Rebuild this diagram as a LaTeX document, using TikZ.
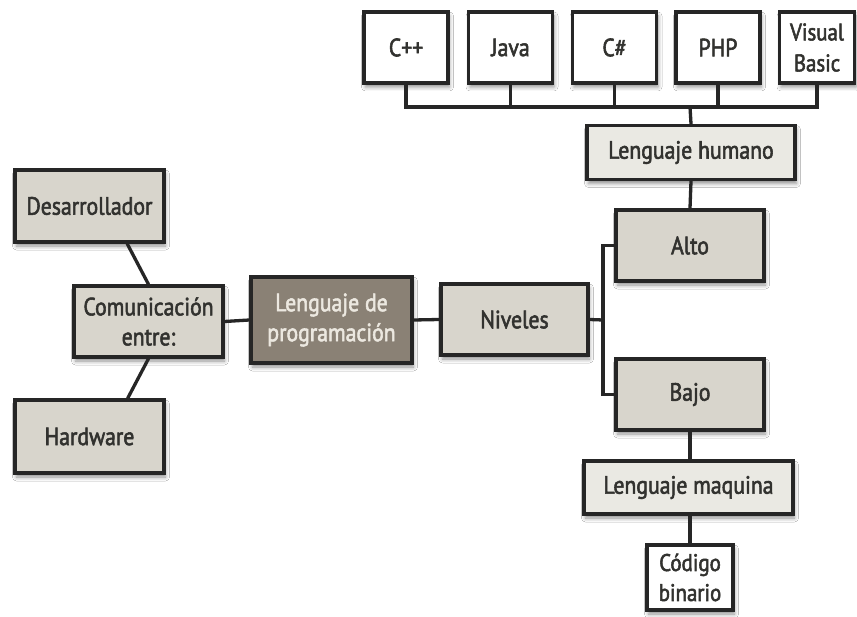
\documentclass[tikz,border=0pt]{standalone}
\usepackage{fontspec}
\setmainfont[FakeStretch=0.87, FakeBold=2.2]{PT Sans}
\usetikzlibrary{shadows.blur}
\definecolor{boxfill}{RGB}{216,213,204}
\definecolor{lightfill}{RGB}{234,233,227}
\definecolor{darkfill}{RGB}{138,129,117}
\definecolor{ink}{RGB}{38,38,38}
\definecolor{txt}{RGB}{50,50,47}
\definecolor{lighttxt}{RGB}{236,232,224}
\tikzset{
  box/.style={draw=ink, line width=3.3pt, fill=boxfill, inner sep=0pt, align=center,
    text=txt, font=\fontsize{25}{30}\selectfont,
    blur shadow={shadow xshift=1.5pt, shadow yshift=-4pt, shadow blur radius=4pt, shadow opacity=45}},
  langbox/.style={box, fill=white, minimum width=84pt, minimum height=71pt},
  midbox/.style={box, minimum width=148pt, minimum height=71pt},
  wirebox/.style={box, fill=lightfill, minimum height=54pt},
  link/.style={draw=ink, line width=3.3pt}
}
\begin{document}
\begin{tikzpicture}[x=1pt, y=-1pt]
  \path[use as bounding box, fill=white] (0,0) rectangle (857,617);

  % languages on top
  \node[langbox] (cpp) at (406,47.5) {C++};
  \node[langbox] (java) at (510.5,47.5) {Java};
  \node[langbox] (csharp) at (614.5,47.5) {C\#};
  \node[langbox] (php) at (718,47.5) {PHP};
  \node[langbox, minimum width=75pt, font=\fontsize{24}{31}\selectfont] (vb) at (817,47.5) {Visual\\Basic};

  % right branch
  \node[wirebox, minimum width=208pt] (humano) at (691,152.5) {Lenguaje humano};
  \node[midbox] (alto) at (690,245.5) {Alto};
  \node[midbox, minimum width=147pt] (niveles) at (514.5,319.5) {Niveles};
  \node[midbox] (bajo) at (690,394.5) {Bajo};
  \node[wirebox, minimum width=209pt, minimum height=53pt] (maquina) at (688.5,487.5) {Lenguaje maquina};
  \node[box, fill=white, minimum width=86pt, minimum height=65pt, font=\fontsize{24}{30}\selectfont] (binario) at (690,577.5) {Código\\binario};

  % left branch
  \node[midbox, minimum width=149pt, minimum height=72pt] (des) at (89.5,206) {Desarrollador};
  \node[midbox, minimum width=149pt] (com) at (148.5,321.5) {Comunicación\\entre:};
  \node[midbox, minimum width=149pt, minimum height=73pt] (hw) at (89.5,436.5) {Hardware};
  \node[box, fill=darkfill, text=lighttxt, minimum width=161pt, minimum height=86pt] (prog) at (331.5,320) {Lenguaje de\\programación};

  % connectors
  \coordinate (bus) at (690,107);
  \coordinate (fork) at (603,320);
  \draw[link] (cpp.south) |- (bus);
  \draw[link] (java.south) |- (bus);
  \draw[link] (csharp.south) |- (bus);
  \draw[link] (vb.south) |- (bus);
  \draw[link] (php.south) |- (bus);
  \draw[link] (bus) -- (humano.north);
  \draw[link] (humano.south) -- (alto.north);
  \draw[link] (niveles.east) -- (fork);
  \draw[link] (alto.west) -| (fork);
  \draw[link] (bajo.west) -| (fork);
  \draw[link] (bajo.south) -- (bajo.south |- maquina.north);
  \draw[link] (binario.north |- maquina.south) -- (binario.north);
  \draw[link] (com.east) -- (prog.west);
  \draw[link] (prog.east) -- (niveles.west);
  \draw[link] (des.-45) -- (com.north);
  \draw[link] (com.south) -- (hw.45);
\end{tikzpicture}
\end{document}
